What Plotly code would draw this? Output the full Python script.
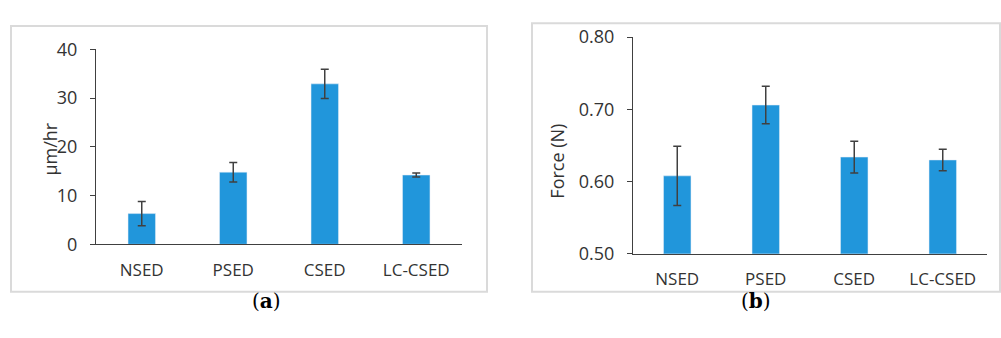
import plotly.graph_objects as go

categories = ["NSED", "PSED", "CSED", "LC-CSED"]
rate_values = [6.3, 14.8, 32.9, 14.2]
rate_errors = [2.5, 2.0, 3.0, 0.4]
force_values = [0.608, 0.706, 0.634, 0.630]
force_errors = [0.041, 0.026, 0.022, 0.015]
rate_ticks = [0, 10, 20, 30, 40]
force_ticks = [0.5, 0.6, 0.7, 0.8]
force_base = 0.5

W, H = 1001, 338
BAR = "#2196DB"
ERR = "#404040"
AX = "#404040"
FONT = "Open Sans"
TXT = "#333333"

def px(x):
    return x / W

def py(y):
    return 1 - y / H

fig = go.Figure()
fig.add_trace(go.Bar(x=categories, y=rate_values, marker_color=BAR, width=0.3,
                     error_y=dict(type="data", array=rate_errors, color=ERR, thickness=1.5, width=4),
                     xaxis="x", yaxis="y", showlegend=False))
fig.add_trace(go.Bar(x=categories, y=[v - force_base for v in force_values], base=force_base,
                     marker_color=BAR, width=0.31,
                     error_y=dict(type="data", array=force_errors, color=ERR, thickness=1.5, width=4),
                     xaxis="x2", yaxis="y2", showlegend=False))

common_x = dict(showline=True, linecolor=AX, linewidth=1.3, ticks="", showgrid=False,
                tickfont=dict(family=FONT, size=17, color=TXT), ticklabelstandoff=10,
                fixedrange=True)
common_y = dict(showline=True, linecolor=AX, linewidth=1.3, ticks="outside", ticklen=5,
                tickcolor=AX, showgrid=False, zeroline=False,
                tickfont=dict(family=FONT, size=18, color=TXT), ticklabelstandoff=9)

fig.update_layout(
    width=W, height=H, margin=dict(l=0, r=0, t=0, b=0),
    paper_bgcolor="white", plot_bgcolor="white",
    xaxis=dict(domain=[px(96), px(462)], anchor="y", **common_x),
    yaxis=dict(domain=[py(249), py(39)], range=[0, 40], tickvals=rate_ticks,
               ticktext=[str(t) for t in rate_ticks], anchor="x", **common_y),
    xaxis2=dict(domain=[px(633), px(987)], anchor="y2", **common_x),
    yaxis2=dict(domain=[py(259.3), py(26)], range=[0.5, 0.8], tickvals=force_ticks,
                ticktext=[f"{t:.2f}" for t in force_ticks], anchor="x2", **common_y),
    shapes=[
        dict(type="rect", xref="paper", yref="paper", x0=px(11), x1=px(487), y0=py(300), y1=py(14),
             line=dict(color="#DADADA", width=2)),
        dict(type="rect", xref="paper", yref="paper", x0=px(532), x1=px(1000), y0=py(300), y1=py(11),
             line=dict(color="#DADADA", width=2)),
    ],
    annotations=[
        dict(text="μm/hr", xref="paper", yref="paper", x=px(36), y=py(147), textangle=-90,
             showarrow=False, font=dict(family=FONT, size=18, color=TXT)),
        dict(text="Force (N)", xref="paper", yref="paper", x=px(557), y=py(160), textangle=-90,
             showarrow=False, font=dict(family=FONT, size=18, color=TXT)),
        dict(text="(<b>a</b>)", xref="paper", yref="paper", x=px(250), y=py(325), showarrow=False,
             font=dict(family="DejaVu Serif", size=20, color="black")),
        dict(text="(<b>b</b>)", xref="paper", yref="paper", x=px(773), y=py(325), showarrow=False,
             font=dict(family="DejaVu Serif", size=20, color="black")),
    ],
)

fig.write_html("out.html", config={"displayModeBar": False},
               post_script="document.body.style.margin='0';document.body.style.padding='0';")
